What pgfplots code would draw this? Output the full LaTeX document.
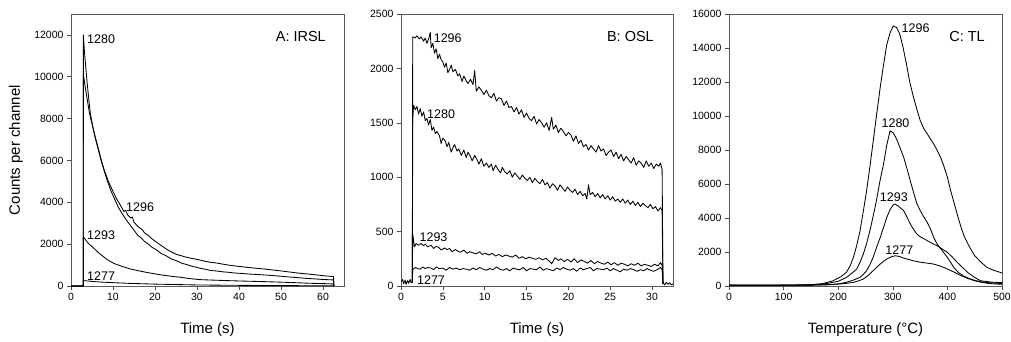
\documentclass[border=0pt]{standalone}
\usepackage{pgfplots}
\pgfplotsset{compat=1.18}
\usepackage{fontspec}
\setmainfont{Liberation Sans}
\tikzset{
  cl/.style={font=\fontsize{12.5}{14}\selectfont, inner sep=0pt},
  pt/.style={font=\fontsize{14.5}{16}\selectfont, inner sep=0pt, anchor=east},
  cv/.style={black, line width=0.85pt, mark=none, line join=round},
}
\begin{document}
\begin{tikzpicture}[x=1pt,y=1pt]
\path[use as bounding box] (0,0) rectangle (1011,341);
\pgfplotsset{common/.style={
  scale only axis, height=272pt, ymin=0, xmin=0,
  axis line style={black!65, line width=0.8pt},
  tick align=outside, xtick pos=bottom, ytick pos=left,
  major tick length=4pt, tick style={black!70, line width=0.6pt},
  tick label style={font=\fontsize{10.5}{12}\selectfont},
  /pgf/number format/assume math mode=true,
  /pgf/number format/1000 sep={},
  scaled ticks=false,
  every axis x label/.style={at={(rel axis cs:0.5,0)}, anchor=base, yshift=-47.5pt, font=\fontsize{15}{18}\selectfont},
  every axis y label/.style={at={(rel axis cs:0,0.5)}, anchor=center, rotate=90, yshift=55pt, font=\fontsize{15}{18}\selectfont},
}}
% ---------------- A: IRSL
\begin{axis}[common, at={(71pt,55pt)}, anchor=south west, width=273pt,
  xmax=65, ymax=13000, xtick={0,10,...,60}, ytick={0,2000,...,12000},
  xlabel={Time (s)}, ylabel={Counts per channel}]
\addplot[cv] coordinates {(0,0)(2.9,0)(2.95,12000)(3.2,11200)(3.5,10500)(3.8,9800)(4.2,9000)(4.6,8250)(5.2,7600)(5.8,7050)(6.4,6600)(7.1,6050)(7.9,5500)(8.7,5000)(9.5,4550)(10.4,4150)(11.3,3750)(12.3,3420)(13.3,3120)(14.5,2800)(15.9,2420)(16.7,2300)(17.5,2130)(18.4,2010)(19.3,1850)(20.4,1720)(21.5,1550)(22.6,1450)(23.8,1300)(25.1,1210)(26.5,1080)(27.5,1030)(28.5,960)(29.6,910)(30.7,850)(32,800)(33.3,740)(34.6,720)(36,680)(37.5,655)(39,620)(40.7,600)(42.5,570)(44.5,550)(46.6,520)(48.3,495)(50,465)(52,430)(54,400)(56,365)(58,340)(60.2,310)(62.5,290)(62.6,0)};
\addplot[cv] coordinates {(0,0)(2.9,0)(2.95,10100)(3.1,9900)(3.4,9500)(3.8,9000)(4.4,8250)(5.2,7600)(5.8,7100)(6.4,6650)(7.1,6100)(7.9,5550)(8.9,5000)(9.9,4560)(10.9,4150)(12.0,3780)(12.6,3560)(13.0,3620)(13.5,3400)(14.2,3250)(14.6,3300)(15.0,3050)(15.9,2850)(16.5,2760)(17.0,2680)(17.6,2520)(18.5,2400)(19.2,2260)(20.0,2150)(21,2000)(22.0,1860)(22.9,1740)(23.8,1640)(24.9,1530)(26,1460)(27.2,1390)(28.5,1330)(29.6,1290)(30.7,1240)(32,1180)(33.3,1130)(34.6,1100)(36,1050)(37.5,1000)(39,960)(40.7,920)(42.5,880)(44.5,840)(46.6,800)(48.3,760)(50,720)(52,670)(54,620)(56,580)(58,540)(60.2,490)(62.5,450)(62.6,0)};
\addplot[cv] coordinates {(0,0)(2.9,0)(2.95,2350)(3.5,2200)(4.2,2020)(5.2,1850)(6.5,1600)(7.6,1420)(8.7,1250)(10.2,1080)(12,950)(14,820)(15.9,735)(18,650)(20,580)(21.5,530)(23,490)(24.5,450)(26,420)(27.3,380)(28.5,350)(30.7,305)(32,295)(34,280)(37,260)(40,240)(43,225)(46.6,205)(49,190)(52,170)(54.5,150)(57,130)(60,115)(62.5,100)(62.6,0)};
\addplot[cv] coordinates {(0,0)(2.9,0)(2.95,260)(4,240)(5,220)(7,190)(10,160)(14,125)(20,90)(25,70)(30,50)(38,35)(45,25)(55,15)(62.5,10)(62.6,0)};
\node[cl, anchor=west] at (axis cs:3.8,11800) {1280};
\node[cl, anchor=west] at (axis cs:13.1,3765) {1296};
\node[cl, anchor=west] at (axis cs:3.8,2440) {1293};
\node[cl, anchor=west] at (axis cs:3.8,493) {1277};
\node[pt] at ([xshift=-18pt,yshift=-23pt]rel axis cs:1,1) {A: IRSL};
\end{axis}
% ---------------- B: OSL
\begin{axis}[common, at={(401pt,55pt)}, anchor=south west, width=272pt,
  xmax=32.5, ymax=2500, xtick={0,5,...,30}, ytick={0,500,...,2500},
  xlabel={Time (s)}]
\addplot[cv] coordinates {(0,40)(0.2,60)(0.3,20)(0.5,55)(0.6,15)(0.8,50)(0.9,25)(1.1,60)(1.2,30)(1.35,40)(1.4,2290)(1.7,2280)(1.9,2300)(2.2,2270)(2.4,2290)(2.7,2250)(2.9,2280)(3.1,2230)(3.3,2270)(3.5,2330)(3.6,2190)(3.8,2230)(4.0,2140)(4.2,2180)(4.4,2090)(4.6,2130)(4.8,2080)(5.0,2060)(5.2,2010)(5.4,2050)(5.6,1960)(5.8,1990)(6.0,2030)(6.2,1970)(6.5,1990)(6.8,1930)(7.0,1950)(7.3,1880)(7.5,1930)(7.7,1900)(8.0,1860)(8.3,1900)(8.6,1850)(8.8,1980)(9.0,1790)(9.3,1830)(9.6,1800)(9.9,1760)(10.2,1800)(10.5,1750)(10.8,1730)(11.1,1770)(11.4,1700)(11.7,1730)(12.0,1720)(12.3,1660)(12.6,1700)(12.9,1640)(13.2,1650)(13.5,1600)(13.8,1640)(14.1,1580)(14.4,1620)(14.7,1550)(15.0,1590)(15.3,1540)(15.6,1520)(15.9,1560)(16.2,1490)(16.5,1530)(16.8,1500)(17.1,1460)(17.4,1500)(17.7,1430)(18.0,1550)(18.2,1440)(18.5,1480)(18.8,1410)(19.1,1450)(19.4,1420)(19.7,1380)(20.0,1410)(20.3,1390)(20.6,1330)(20.9,1380)(21.2,1310)(21.5,1340)(21.8,1280)(22.1,1300)(22.4,1250)(22.7,1290)(23.0,1260)(23.3,1230)(23.6,1290)(23.9,1240)(24.2,1260)(24.5,1200)(24.8,1230)(25.1,1250)(25.4,1190)(25.7,1230)(26.0,1170)(26.3,1210)(26.6,1150)(26.9,1190)(27.2,1160)(27.5,1130)(27.8,1180)(28.1,1110)(28.4,1150)(28.7,1130)(29.0,1090)(29.3,1150)(29.6,1100)(29.9,1130)(30.2,1080)(30.5,1120)(30.8,1100)(31.0,1130)(31.2,1070)(31.3,30)(31.5,10)(31.7,35)(31.9,15)(32.1,30)(32.3,10)(32.5,20)};
\addplot[cv] coordinates {(1.35,30)(1.4,1540)(1.5,1660)(1.7,1620)(1.9,1650)(2.1,1580)(2.3,1630)(2.5,1560)(2.7,1600)(2.9,1520)(3.1,1540)(3.3,1480)(3.5,1530)(3.7,1430)(3.9,1460)(4.1,1400)(4.3,1420)(4.6,1380)(4.8,1310)(5.0,1360)(5.3,1330)(5.5,1280)(5.7,1320)(6.0,1230)(6.2,1270)(6.4,1300)(6.7,1240)(6.9,1260)(7.2,1200)(7.5,1250)(7.8,1180)(8.0,1230)(8.3,1190)(8.5,1150)(8.8,1200)(9.1,1160)(9.3,1120)(9.6,1170)(9.9,1100)(10.2,1130)(10.5,1090)(10.8,1120)(11.0,1060)(11.3,1110)(11.6,1070)(11.9,1040)(12.1,1090)(12.4,1050)(12.7,1030)(13.0,1060)(13.3,1000)(13.6,1040)(13.9,1010)(14.2,980)(14.5,1020)(14.8,990)(15.1,970)(15.4,1000)(15.7,950)(16.0,990)(16.3,960)(16.6,940)(16.9,980)(17.2,930)(17.5,950)(17.8,900)(18.1,940)(18.4,920)(18.7,880)(19.0,930)(19.3,900)(19.6,870)(19.9,910)(20.2,880)(20.5,860)(20.8,890)(21.1,840)(21.4,870)(21.7,830)(22.0,850)(22.2,800)(22.4,930)(22.6,840)(22.9,860)(23.2,820)(23.5,850)(23.8,810)(24.1,840)(24.4,800)(24.7,830)(25.0,790)(25.3,820)(25.6,780)(25.9,800)(26.2,770)(26.5,800)(26.8,760)(27.1,790)(27.4,750)(27.7,780)(28.0,740)(28.3,770)(28.6,730)(28.9,760)(29.2,740)(29.5,720)(29.8,750)(30.1,710)(30.4,730)(30.7,690)(31.0,720)(31.2,690)(31.3,20)};
\addplot[cv] coordinates {(1.35,30)(1.4,480)(1.6,360)(1.8,390)(2.1,375)(2.4,390)(2.7,370)(2.9,385)(3.2,360)(3.6,375)(3.9,345)(4.2,365)(4.5,355)(4.8,330)(5.2,350)(5.5,335)(5.8,345)(6.1,315)(6.5,335)(6.8,320)(7.1,310)(7.5,330)(7.9,300)(8.2,315)(8.6,305)(9.0,295)(9.4,315)(9.7,290)(10.1,300)(10.5,285)(10.9,300)(11.3,275)(11.7,290)(12.1,270)(12.5,285)(12.9,275)(13.3,265)(13.7,285)(14.1,255)(14.5,270)(14.9,250)(15.3,265)(15.7,255)(16.1,245)(16.5,260)(16.9,240)(17.3,255)(17.7,230)(18.0,205)(18.4,260)(18.8,235)(19.1,250)(19.5,225)(19.9,245)(20.3,220)(20.7,250)(21.1,215)(21.5,240)(21.9,225)(22.3,210)(22.7,235)(23.1,205)(23.5,225)(23.9,210)(24.3,200)(24.7,220)(25.1,195)(25.5,215)(25.9,190)(26.3,210)(26.7,200)(27.1,185)(27.5,205)(27.9,190)(28.3,210)(28.7,185)(29.1,200)(29.5,190)(29.9,180)(30.3,200)(30.7,185)(31.0,215)(31.2,190)(31.3,20)};
\addplot[cv] coordinates {(1.35,30)(1.4,150)(1.7,170)(2.0,160)(2.3,155)(2.6,175)(2.9,160)(3.2,170)(3.6,165)(3.9,150)(4.2,175)(4.6,160)(5.0,165)(5.4,145)(5.8,170)(6.2,155)(6.6,165)(7.0,150)(7.4,160)(7.8,155)(8.2,145)(8.6,165)(9.0,150)(9.4,170)(9.8,155)(10.2,145)(10.6,160)(11.0,150)(11.4,175)(11.8,155)(12.2,145)(12.6,160)(13.0,140)(13.4,165)(13.8,155)(14.2,150)(14.6,170)(15.0,140)(15.4,160)(15.8,155)(16.2,150)(16.6,175)(17.0,145)(17.4,160)(17.8,150)(18.2,140)(18.6,165)(19.0,150)(19.4,170)(19.8,155)(20.2,145)(20.6,160)(21.0,135)(21.4,165)(21.8,150)(22.2,160)(22.6,170)(23.0,140)(23.4,160)(23.8,155)(24.2,150)(24.6,165)(25.0,140)(25.4,160)(25.8,145)(26.2,130)(26.6,155)(27.0,145)(27.4,160)(27.8,150)(28.2,135)(28.6,150)(29.0,140)(29.4,160)(29.8,145)(30.2,135)(30.6,150)(31.0,170)(31.2,150)(31.3,20)};
\node[cl, anchor=west] at (axis cs:3.9,2277) {1296};
\node[cl, anchor=west] at (axis cs:3.1,1581) {1280};
\node[cl, anchor=west] at (axis cs:2.2,453) {1293};
\node[cl, anchor=west] at (axis cs:1.9,58) {1277};
\node[pt] at ([xshift=-19pt,yshift=-23pt]rel axis cs:1,1) {B: OSL};
\end{axis}
% ---------------- C: TL
\begin{axis}[common, at={(729pt,55pt)}, anchor=south west, width=273pt,
  xmax=500, ymax=16000, xtick={0,100,...,500}, ytick={0,2000,...,16000},
  xlabel={Temperature (°C)}]
\addplot[cv] coordinates {(0,50)(50,40)(100,50)(150,80)(170,130)(190,300)(205,550)(215,800)(222,1200)(228,1700)(234,2400)(240,3250)(246,4400)(252,5600)(258,7000)(264,8500)(270,10000)(277,11700)(283,13000)(289,14200)(295,14900)(301,15300)(307,15200)(313,14800)(319,14000)(325,13050)(331,12000)(338,11100)(344,10400)(350,9750)(357,9250)(363,8950)(369,8650)(375,8350)(381,8000)(387,7600)(393,7100)(400,6400)(406,5600)(413,4800)(419,4100)(425,3450)(431,2900)(438,2450)(444,2100)(450,1780)(460,1450)(472,1100)(485,920)(497,800)(500,760)};
\addplot[cv] coordinates {(0,50)(100,50)(150,70)(180,150)(200,280)(215,500)(225,750)(234,1000)(240,1400)(246,1880)(252,2500)(258,3250)(264,4100)(270,5020)(276,6100)(283,7170)(289,8300)(295,9130)(301,9000)(307,8640)(313,8150)(320,7560)(326,6900)(332,6190)(338,5500)(344,4850)(350,4450)(356,4100)(363,3750)(369,3350)(375,2850)(381,2480)(388,2180)(394,1930)(400,1680)(406,1380)(412,1080)(420,800)(430,580)(440,440)(450,330)(465,230)(480,180)(500,150)};
\addplot[cv] coordinates {(0,40)(100,40)(150,50)(180,80)(200,120)(215,215)(228,350)(240,510)(246,680)(252,900)(258,1250)(264,1690)(270,2250)(277,2860)(283,3450)(289,4040)(295,4500)(301,4780)(304,4820)(310,4700)(320,4430)(326,4050)(332,3650)(338,3330)(344,3060)(350,2900)(357,2780)(363,2670)(370,2540)(381,2370)(390,2190)(400,1980)(409,1700)(418,1390)(428,1080)(437,800)(450,500)(461,310)(480,230)(500,200)};
\addplot[cv] coordinates {(0,40)(100,40)(150,50)(180,70)(203,120)(215,160)(228,215)(237,300)(246,410)(255,620)(264,900)(270,1090)(277,1290)(283,1450)(289,1590)(296,1700)(304,1780)(312,1740)(318,1660)(326,1590)(338,1480)(350,1400)(362,1350)(375,1290)(388,1160)(400,1000)(412,820)(425,610)(437,450)(450,310)(462,220)(474,160)(487,120)(500,100)};
\node[cl, anchor=west] at (axis cs:316,15176) {1296};
\node[cl] at (axis cs:305,9570) {1280};
\node[cl] at (axis cs:302,5218) {1293};
\node[cl] at (axis cs:312,2118) {1277};
\node[pt] at ([xshift=-17pt,yshift=-23pt]rel axis cs:1,1) {C: TL};
\end{axis}
\end{tikzpicture}
\end{document}
